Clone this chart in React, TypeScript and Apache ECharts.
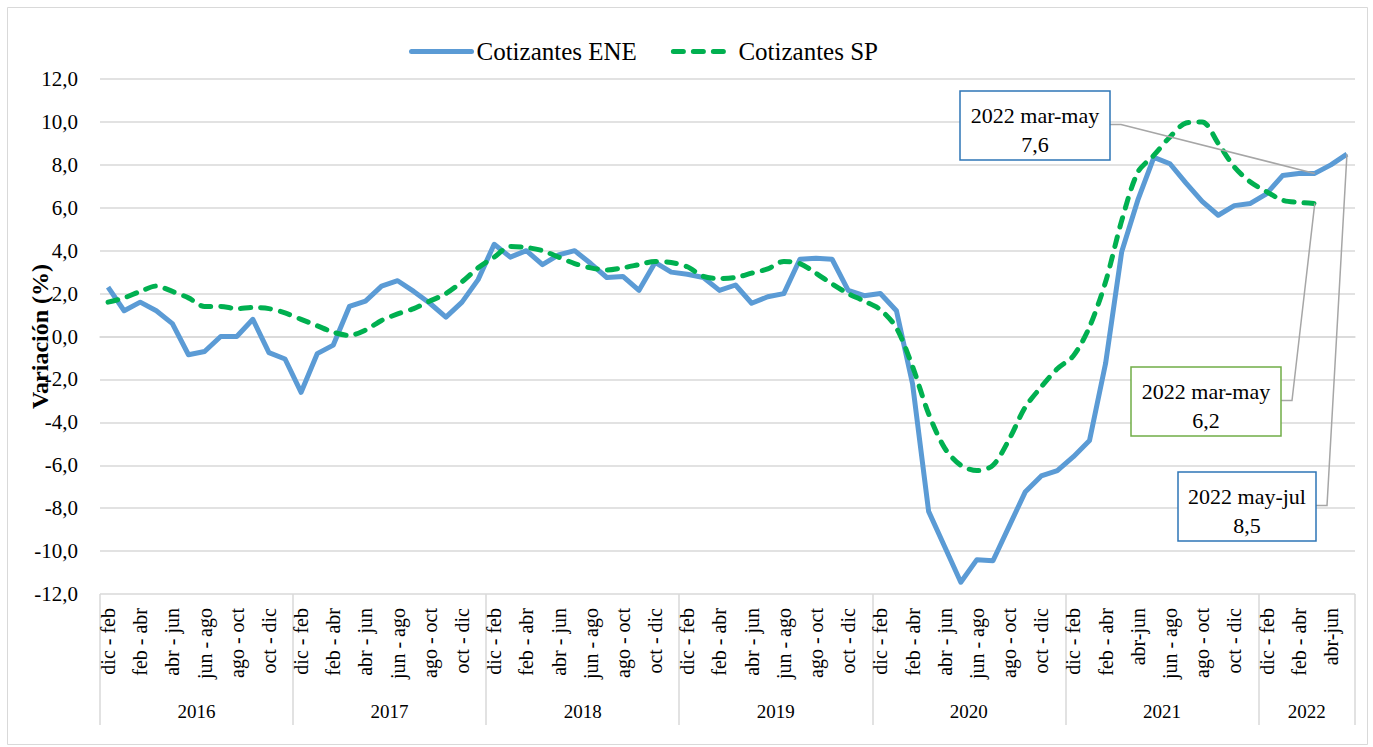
import React, { useEffect, useRef } from "react";
import * as echarts from "echarts";

const FONT = "Liberation Serif";

const Q_STD = ["dic - feb", "ene - mar", "feb - abr", "mar - may", "abr - jun", "may - jul", "jun - ago", "jul - sep", "ago - oct", "sep - nov", "oct - dic", "nov - ene"];
const Q_2021 = ["dic - feb", "ene - mar", "feb - abr", "mar - may", "abr-jun", "may - jul", "jun - ago", "jul - sep", "ago - oct", "sep - nov", "oct - dic", "nov - ene"];
const Q_2022 = ["dic - feb", "ene - mar", "feb - abr", "mar - may", "abr-jun", "may - jul"];

const years = ["2016", "2017", "2018", "2019", "2020", "2021", "2022"];
const categories = [
  ...Q_STD, ...Q_STD, ...Q_STD, ...Q_STD, ...Q_STD, ...Q_2021, ...Q_2022,
];
// year boundaries (category index) and label centres
const yearBounds = [0, 12, 24, 36, 48, 60, 72, 78];
const yearCenters = [6, 18, 30, 42, 54, 66, 75];

const ene = [
  2.3, 1.2, 1.6, 1.2, 0.6, -0.85, -0.7, 0.0, 0.0, 0.8, -0.75, -1.05,
  -2.6, -0.8, -0.4, 1.4, 1.65, 2.35, 2.6, 2.1, 1.55, 0.9, 1.6, 2.65,
  4.3, 3.7, 4.0, 3.35, 3.8, 4.0, 3.4, 2.75, 2.8, 2.15, 3.45, 3.0,
  2.9, 2.75, 2.15, 2.4, 1.55, 1.85, 2.0, 3.6, 3.65, 3.6, 2.15, 1.9,
  2.0, 1.2, -2.2, -8.15, -9.8, -11.45, -10.4, -10.45, -8.85, -7.25, -6.5, -6.25,
  -5.6, -4.85, -1.25, 3.95, 6.35, 8.35, 8.05, 7.15, 6.3, 5.65, 6.1, 6.2,
  6.65, 7.5, 7.6, 7.6, 8.0, 8.5,
];

const sp = [
  1.6, 1.8, 2.1, 2.35, 2.1, 1.8, 1.4, 1.4, 1.3, 1.35, 1.3, 1.1,
  0.8, 0.5, 0.2, 0.05, 0.3, 0.75, 1.05, 1.3, 1.65, 2.0, 2.55, 3.2,
  3.7, 4.2, 4.15, 4.0, 3.7, 3.4, 3.2, 3.1, 3.2, 3.35, 3.5, 3.45,
  3.25, 2.8, 2.7, 2.75, 2.95, 3.15, 3.5, 3.4, 2.95, 2.45, 2.0, 1.65,
  1.25, 0.4, -1.4, -3.6, -5.2, -6.0, -6.25, -6.0, -4.8, -3.3, -2.35, -1.5,
  -0.9, 0.45, 2.55, 5.4, 7.65, 8.45, 9.3, 9.95, 10.0, 9.0, 7.9, 7.2,
  6.75, 6.35, 6.25, 6.2,
];

const comma = (v: number) => v.toFixed(1).replace(".", ",");

const callouts = [
  { series: "ene", index: 75, title: "2022 mar-may", box: [960, 91, 150, 69], color: "#2E75B6" },
  { series: "sp", index: 75, title: "2022 mar-may", box: [1131, 367, 150, 69], color: "#70AD47" },
  { series: "ene", index: 77, title: "2022 may-jul", box: [1178, 472, 138, 69], color: "#2E75B6" },
];

export default function App() {
  const ref = useRef<HTMLDivElement>(null);
  useEffect(() => {
    document.body.style.margin = "0";
    document.body.style.overflow = "hidden";
    const chart = echarts.init(ref.current!, null, { renderer: "svg" });
    chart.setOption({
      animation: false,
      backgroundColor: "#fff",
      legend: {
        left: 404,
        top: 34,
        itemWidth: 60,
        itemHeight: 14,
        itemGap: 34,
        itemStyle: { opacity: 0 },
        lineStyle: { width: 5, cap: "round" },
        textStyle: { fontFamily: FONT, fontSize: 25, color: "#000" },
        data: ["Cotizantes ENE", "Cotizantes SP"],
      },
      grid: { left: 100, right: 18, top: 79, bottom: 153, containLabel: false, outerBoundsMode: "none" },
      xAxis: [
        {
          type: "category",
          data: categories,
          boundaryGap: true,
          axisLine: { lineStyle: { color: "#D9D9D9", width: 1.5 } },
          axisTick: { show: false },
          axisLabel: { interval: 1, rotate: 90, margin: 14, fontFamily: FONT, fontSize: 20, color: "#000" },
          splitLine: { show: false },
        },
        {
          type: "value",
          min: 0,
          max: 78,
          position: "bottom",
          axisLine: { show: false },
          axisTick: { show: true, customValues: yearBounds, length: 131, lineStyle: { color: "#D9D9D9", width: 1.5 } },
          axisLabel: {
            customValues: yearCenters,
            formatter: (v: number) => years[yearCenters.indexOf(v)] ?? "",
            margin: 108,
            fontFamily: FONT,
            fontSize: 19,
            color: "#000",
          },
          splitLine: { show: false },
        },
      ],
      yAxis: {
        type: "value",
        min: -12,
        max: 12,
        interval: 2,
        axisLabel: { formatter: (v: number) => comma(v), fontFamily: FONT, fontSize: 21, color: "#000", margin: 22 },
        axisLine: { show: false },
        axisTick: { show: false },
        splitLine: { lineStyle: { color: "#D9D9D9", width: 1.5 } },
        name: "Variación (%)",
        nameLocation: "middle",
        nameGap: 48,
        nameMoveOverlap: false,
        nameTextStyle: { fontFamily: FONT, fontSize: 24, fontWeight: "bold", color: "#000" },
      },
      series: [
        {
          name: "Cotizantes ENE",
          type: "line",
          xAxisIndex: 0,
          data: ene,
          symbol: "none",
          lineStyle: { color: "#5B9BD5", width: 5, join: "round" },
          itemStyle: { color: "#5B9BD5" },
        },
        {
          name: "Cotizantes SP",
          type: "line",
          xAxisIndex: 0,
          data: sp,
          symbol: "none",
          smooth: 0.3,
          lineStyle: { color: "#00B050", width: 5, type: [10, 10], cap: "round", join: "round" },
          itemStyle: { color: "#00B050" },
        },
      ],
    });

    const graphics: any[] = [
      {
        type: "rect",
        silent: true,
        shape: { x: 7.5, y: 7.5, width: 1360, height: 737 },
        style: { fill: "none", stroke: "#D9D9D9", lineWidth: 1 },
      },
    ];
    callouts.forEach((c) => {
      const arr = c.series === "ene" ? ene : sp;
      const v = arr[c.index];
      const p = chart.convertToPixel({ xAxisIndex: 0, yAxisIndex: 0 }, [c.index, v]) as number[];
      const [bx, by, bw, bh] = c.box;
      const ly = by + bh / 2 - 1;
      graphics.push({
        type: "polyline",
        silent: true,
        shape: { points: [[bx + bw, ly], [bx + bw + 11, ly], [p[0], p[1]]] },
        style: { stroke: "#A6A6A6", lineWidth: 1.5, fill: "none" },
        z: 10,
      });
      graphics.push({
        type: "rect",
        silent: true,
        shape: { x: bx, y: by, width: bw, height: bh },
        style: { fill: "#fff", stroke: c.color, lineWidth: 1.5 },
        z: 11,
      });
      graphics.push({
        type: "text",
        silent: true,
        x: bx + bw / 2,
        y: by + 24,
        style: { text: c.title, fontFamily: FONT, fontSize: 22, fill: "#000", align: "center", verticalAlign: "middle" },
        z: 12,
      });
      graphics.push({
        type: "text",
        silent: true,
        x: bx + bw / 2,
        y: by + 53,
        style: { text: comma(v), fontFamily: FONT, fontSize: 22, fill: "#000", align: "center", verticalAlign: "middle" },
        z: 12,
      });
    });
    chart.setOption({ graphic: graphics });

    return () => chart.dispose();
  }, []);
  return <div ref={ref} style={{ width: 1373, height: 747 }} />;
}
